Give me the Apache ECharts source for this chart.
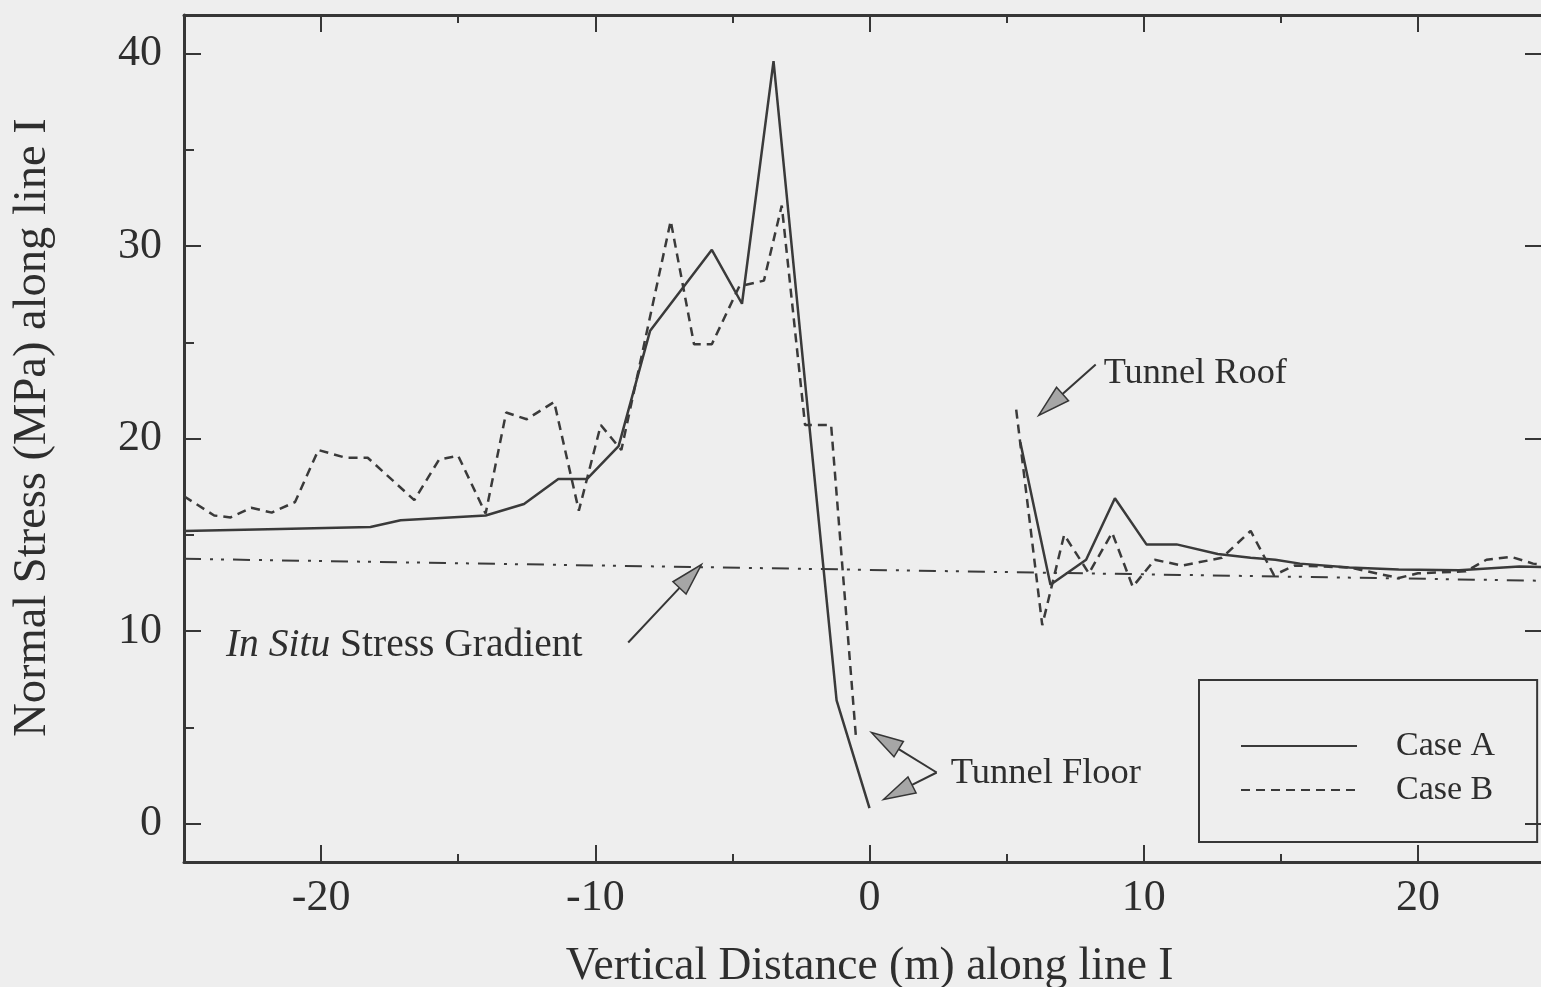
<!DOCTYPE html>
<html><head><meta charset="utf-8">
<script src="https://cdn.jsdelivr.net/npm/echarts@6/dist/echarts.min.js"></script>
<style>html,body{margin:0;padding:0;background:#eeeeee;} #c{width:1541px;height:987px;}</style>
</head><body><div id="c"></div>
<script>
// ---- data ----
const caseA_floor_x = [-25, -21.5, -18.2, -17.1, -14.0, -12.6, -11.35, -10.3, -9.15, -8.0, -5.75, -4.65, -3.5, -2.3, -1.2, 0];
const caseA_floor_y = [15.2, 15.3, 15.4, 15.75, 16.0, 16.6, 17.9, 17.9, 19.6, 25.6, 29.8, 27.0, 39.6, 22.2, 6.4, 0.8];
const caseA_roof_x = [5.5, 6.6, 7.9, 8.95, 10.1, 11.2, 12.7, 13.9, 14.8, 15.7, 17.5, 19.3, 21.5, 23.7, 25];
const caseA_roof_y = [19.8, 12.4, 13.7, 16.9, 14.5, 14.5, 14.0, 13.8, 13.7, 13.5, 13.3, 13.2, 13.15, 13.35, 13.3];

const caseB_floor_x = [-25, -23.9, -23.3, -22.55, -21.8, -20.95, -20.1, -19.1, -18.3, -16.6, -15.7, -15.0, -14.0, -13.25, -12.5, -11.5, -10.6, -9.8, -9.05, -7.25, -6.4, -5.75, -4.75, -3.85, -3.2, -2.35, -1.4, -0.5];
const caseB_floor_y = [17.0, 16.0, 15.9, 16.4, 16.15, 16.7, 19.4, 19.0, 19.0, 16.8, 18.9, 19.1, 16.1, 21.35, 21.0, 21.9, 16.25, 20.7, 19.4, 31.3, 24.9, 24.9, 27.9, 28.2, 32.1, 20.7, 20.7, 4.6];
const caseB_roof_x = [5.35, 6.3, 7.1, 8.0, 8.85, 9.6, 10.4, 11.4, 12.85, 13.9, 14.75, 15.5, 17.5, 19.3, 20.0, 21.75, 22.5, 23.4, 24.2, 25];
const caseB_roof_y = [21.5, 10.3, 15.0, 13.0, 15.1, 12.3, 13.7, 13.4, 13.8, 15.2, 12.9, 13.4, 13.3, 12.75, 13.0, 13.1, 13.7, 13.85, 13.5, 13.4];

const gradient_x = [-25, 25];
const gradient_y = [13.75, 12.6];

const xMajorTicks = [-20, -10, 0, 10, 20];
const xMinorTicks = [-15, -5, 5, 15];
const yMajorTicks = [0, 10, 20, 30, 40];
const yMinorTicks = [5, 15, 25, 35];

const seriesNames = ['Case A', 'Case B'];
const xTitle = 'Vertical Distance (m) along line I';
const yTitle = 'Normal Stress (MPa) along line I';

// ---- annotations (data coordinates) ----
const roofArrow = {tail: [8.25, 23.85], tip: [6.17, 21.2]};
const floorArrowTail = [2.45, 2.65];
const floorArrowTips = [[0.07, 4.73], [0.51, 1.25]];
const inSituArrow = {tail: [-8.8, 9.4], tip: [-6.13, 13.45]};
const roofLabelPos = [8.54, 23.4];
const floorLabelPos = [2.96, 2.6];
const inSituLabelPos = [-23.47, 9.25];

// ---- build ----
const FONT = '"Liberation Serif", "Times New Roman", serif';
const INK = '#363636';
function pairs(xs, ys) { return xs.map((x, i) => [x, ys[i]]); }
const gap = [['-', '-']];
const caseAData = pairs(caseA_floor_x, caseA_floor_y).concat(gap, pairs(caseA_roof_x, caseA_roof_y));
const caseBData = pairs(caseB_floor_x, caseB_floor_y).concat(gap, pairs(caseB_roof_x, caseB_roof_y));
const gradientData = pairs(gradient_x, gradient_y);

const chart = echarts.init(document.getElementById('c'), null, {renderer: 'canvas'});

function xAx(pos, ticks, len, opts) {
  return Object.assign({
    type: 'value', min: -25, max: 25, position: pos,
    axisLine: {show: false, onZero: false},
    axisTick: {show: true, inside: true, length: len, customValues: ticks, lineStyle: {color: INK, width: 2}},
    axisLabel: {show: false},
    splitLine: {show: false}
  }, opts || {});
}
function yAx(pos, ticks, len, opts) {
  return Object.assign({
    type: 'value', min: -2, max: 42, position: pos,
    axisLine: {show: false, onZero: false},
    axisTick: {show: true, inside: true, length: len, customValues: ticks, lineStyle: {color: INK, width: 2}},
    axisLabel: {show: false},
    splitLine: {show: false}
  }, opts || {});
}

const option = {
  animation: false,
  backgroundColor: '#eeeeee',
  grid: {left: 184, right: -14, top: 15, bottom: 125, outerBoundsMode: 'none', containLabel: false},
  xAxis: [
    xAx('bottom', xMajorTicks, 17, {
      axisLine: {show: true, onZero: false, lineStyle: {color: INK, width: 3}},
      axisLabel: {show: true, customValues: xMajorTicks, margin: 14, fontFamily: FONT, fontSize: 44, color: '#2e2e2e'},
      name: xTitle, nameLocation: 'middle', nameGap: 82,
      nameTextStyle: {fontFamily: FONT, fontSize: 45.5, color: '#2e2e2e'}
    }),
    xAx('bottom', xMinorTicks, 8),
    xAx('top', xMajorTicks, 17, {axisLine: {show: true, onZero: false, lineStyle: {color: INK, width: 3}}}),
    xAx('top', xMinorTicks, 8)
  ],
  yAxis: [
    yAx('left', yMajorTicks, 17, {
      axisLine: {show: true, onZero: false, lineStyle: {color: INK, width: 3}},
      axisLabel: {show: true, customValues: yMajorTicks, margin: 22, fontFamily: FONT, fontSize: 44, color: '#2e2e2e'},
      name: yTitle, nameLocation: 'middle', nameGap: 128,
      nameTextStyle: {fontFamily: FONT, fontSize: 46.5, color: '#2e2e2e', padding: [0, 0, 0, 22]}
    }),
    yAx('left', yMinorTicks, 10),
    yAx('right', yMajorTicks, 30, {axisLine: {show: true, onZero: false, lineStyle: {color: INK, width: 3}}}),
    yAx('right', yMinorTicks, 12)
  ],
  legend: {
    data: seriesNames, orient: 'vertical', left: 1199, top: 680,
    itemWidth: 116, itemHeight: 14, itemGap: 10,
    padding: [49, 42, 35, 41],
    borderColor: INK, borderWidth: 2, backgroundColor: 'transparent',
    itemStyle: {opacity: 0},
    textStyle: {fontFamily: FONT, fontSize: 34, color: '#2e2e2e', padding: [0, 0, 0, 34]}
  },
  series: [
    {name: seriesNames[0], type: 'line', data: caseAData, xAxisIndex: 0, yAxisIndex: 0,
     symbol: 'none', connectNulls: false, lineStyle: {color: '#3a3a3a', width: 2.5, type: 'solid'}, itemStyle: {color: '#3a3a3a'}},
    {name: seriesNames[1], type: 'line', data: caseBData, xAxisIndex: 0, yAxisIndex: 0,
     symbol: 'none', connectNulls: false, lineStyle: {color: '#3a3a3a', width: 2.5, type: [9, 6]}, itemStyle: {color: '#3a3a3a'}},
    {name: 'In Situ Stress Gradient', type: 'line', data: gradientData, xAxisIndex: 0, yAxisIndex: 0,
     symbol: 'none', lineStyle: {color: '#3a3a3a', width: 2, type: [17, 9, 3, 8, 3, 9]}}
  ]
};
chart.setOption(option);

function px(p) { return chart.convertToPixel({gridIndex: 0}, p); }
function arrow(tail, tip) {
  const a = px(tail), b = px(tip);
  const dx = b[0] - a[0], dy = b[1] - a[1], len = Math.hypot(dx, dy);
  const ux = dx / len, uy = dy / len, L = 32, W = 9;
  const bx = b[0] - ux * L, by = b[1] - uy * L;
  return [
    {type: 'line', shape: {x1: a[0], y1: a[1], x2: bx, y2: by}, style: {stroke: INK, lineWidth: 2}, z: 100},
    {type: 'polygon', shape: {points: [[b[0], b[1]], [bx - uy * W, by + ux * W], [bx + uy * W, by - ux * W]]},
     style: {fill: '#a6a6a6', stroke: INK, lineWidth: 1.5}, z: 100}
  ];
}
function label(pos, text, size, rich) {
  const p = px(pos);
  return {type: 'text', x: p[0], y: p[1], z: 100,
    style: {text: text, fontFamily: FONT, fontSize: size, fill: '#2e2e2e', align: 'left', verticalAlign: 'middle', rich: rich || {}}};
}
const elements = []
  .concat(arrow(roofArrow.tail, roofArrow.tip))
  .concat(arrow(floorArrowTail, floorArrowTips[0]))
  .concat(arrow(floorArrowTail, floorArrowTips[1]))
  .concat(arrow(inSituArrow.tail, inSituArrow.tip));
elements.push(label(roofLabelPos, 'Tunnel Roof', 36.3));
elements.push(label(floorLabelPos, 'Tunnel Floor', 36.5));
elements.push(label(inSituLabelPos, '{i|In Situ} Stress Gradient', 39.5, {
  i: {fontFamily: FONT, fontSize: 39.5, fontStyle: 'italic', fill: '#2e2e2e', color: '#2e2e2e'}
}));
chart.setOption({graphic: {elements: elements}});
</script></body></html>
